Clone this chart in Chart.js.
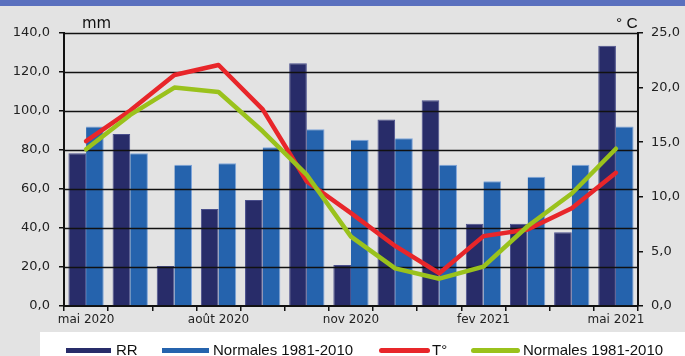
<!DOCTYPE html>
<html>
<head>
<meta charset="utf-8">
<script src="https://cdn.jsdelivr.net/npm/chart.js@4.4.0/dist/chart.umd.min.js"></script>
<style>
  html, body { margin: 0; padding: 0; }
  body { width: 685px; height: 356px; overflow: hidden; background: #e3e3e3; position: relative; }
  #band { position: absolute; left: 0; top: 0; width: 685px; height: 6px; background: #5a70be; }
  #wrap { position: absolute; left: 0; top: 0; width: 685px; height: 356px; }
  .unit { position: absolute; color: #111; line-height: 15px; white-space: nowrap; }
  #legend { position: absolute; left: 40px; top: 332px; width: 645px; height: 24px; background: #ffffff; }
  .sw { position: absolute; height: 5px; top: 348px; }
  .lt { position: absolute; top: 342px; font: 15px "Liberation Sans", Arial, sans-serif; line-height: 15px; color: #111; white-space: nowrap; }
</style>
</head>
<body>
<div id="band"></div>
<div id="legend"></div>
<div id="wrap"><canvas id="c" width="685" height="356"></canvas></div>
<span class="unit" style="left:82px; top:14px; font:15px 'DejaVu Sans', sans-serif;">mm</span>
<span class="unit" style="left:616px; top:14px; font:15.5px 'Liberation Sans', Arial, sans-serif;">° C</span>

<div class="sw" style="left:66px; width:45px; background:#282c69;"></div>
<span class="lt" style="left:116px;">RR</span>
<div class="sw" style="left:162px; width:47px; background:#2563ad;"></div>
<span class="lt" style="left:213px;">Normales 1981-2010</span>
<div class="sw" style="left:379px; width:51px; background:#e8262a; border-radius:3px;"></div>
<span class="lt" style="left:432px;">T°</span>
<div class="sw" style="left:471px; width:49px; background:#9ac21c; border-radius:3px;"></div>
<span class="lt" style="left:523px;">Normales 1981-2010</span>

<script>
// ---- Data ----
const months = ['mai 2020','juin 2020','juil 2020','août 2020','sept 2020','oct 2020','nov 2020','déc 2020','janv 2021','fev 2021','mars 2021','avr 2021','mai 2021'];
const rr = [78.3, 88.2, 20.5, 49.7, 54.4, 124.5, 21.0, 95.7, 105.5, 42.2, 42.2, 37.8, 133.5];
const rrNormales = [92.0, 78.3, 72.5, 73.2, 81.4, 90.6, 85.3, 86.0, 72.5, 64.0, 66.3, 72.5, 92.0];
const temp = [15.1, 17.9, 21.15, 22.07, 18.0, 11.4, 8.5, 5.5, 3.0, 6.4, 7.0, 8.95, 12.2];
const tempNormales = [14.35, 17.5, 20.0, 19.6, 16.0, 12.0, 6.35, 3.45, 2.5, 3.6, 7.3, 10.3, 14.4];
const shownMonthLabels = [0, 3, 6, 9, 12];

const fmt = v => Number(v).toFixed(1).replace('.', ',');

// gridlines drawn over the bars but under the lines
const gridOverBars = {
  id: 'gridOverBars',
  beforeDatasetDraw(chart, args) {
    if (args.index !== 2) return;
    const y = chart.scales.y, a = chart.chartArea, ctx = chart.ctx;
    ctx.save();
    ctx.strokeStyle = '#111';
    ctx.lineWidth = 1.6;
    y.ticks.forEach(t => {
      if (t.value === 0) return;
      const py = Math.round(y.getPixelForValue(t.value)) + 0.5;
      ctx.beginPath();
      ctx.moveTo(a.left, py);
      ctx.lineTo(a.right, py);
      ctx.stroke();
    });
    ctx.restore();
  }
};

new Chart(document.getElementById('c'), {
  type: 'bar',
  data: {
    labels: months,
    datasets: [
      { label: 'RR', data: rr, backgroundColor: '#282c69', borderColor: '#4a4f8c',
        borderWidth: {top:1, left:1, right:1, bottom:0}, yAxisID: 'y', order: 2,
        categoryPercentage: 0.8, barPercentage: 1.0 },
      { label: 'Normales 1981-2010', data: rrNormales, backgroundColor: '#2563ad', borderColor: '#7fa5da',
        borderWidth: {top:1, left:0, right:1, bottom:0}, yAxisID: 'y', order: 2,
        categoryPercentage: 0.8, barPercentage: 1.0 },
      { type: 'line', label: 'T°', data: temp, borderColor: '#e8262a', borderWidth: 4.5,
        pointRadius: 0, tension: 0, yAxisID: 'y1', order: 1, borderCapStyle: 'round', borderJoinStyle: 'round' },
      { type: 'line', label: 'Normales 1981-2010', data: tempNormales, borderColor: '#9ac21c', borderWidth: 4.5,
        pointRadius: 0, tension: 0, yAxisID: 'y1', order: 0, borderCapStyle: 'round', borderJoinStyle: 'round' }
    ]
  },
  options: {
    responsive: false,
    animation: false,
    devicePixelRatio: 1,
    layout: { padding: { top: 33, left: 0, right: 0, bottom: 24 } },
    plugins: { legend: { display: false }, tooltip: { enabled: false } },
    scales: {
      x: {
        offset: true,
        grid: { offset: true, drawOnChartArea: false, drawTicks: true, tickLength: 5, color: '#111', lineWidth: 1.5 },
        border: { display: true, color: '#111', width: 2 },
        ticks: {
          autoSkip: false, maxRotation: 0, minRotation: 0, padding: 2,
          color: '#222', font: { family: 'DejaVu Sans', size: 12 },
          callback: function(v, i) { return shownMonthLabels.includes(i) ? months[i] : ''; }
        },
        afterFit: s => { s.height = 26; }
      },
      y: {
        position: 'left', min: 0, max: 140,
        grid: { drawOnChartArea: false, drawTicks: true, tickLength: 5, color: '#111', lineWidth: 1.5 },
        border: { display: true, color: '#111', width: 2 },
        ticks: { stepSize: 20, padding: 9, color: '#222', font: { family: 'DejaVu Sans', size: 13 }, callback: v => fmt(v) },
        afterFit: s => { s.width = 64; }
      },
      y1: {
        position: 'right', min: 0, max: 25,
        grid: { drawOnChartArea: false, drawTicks: true, tickLength: 5, color: '#111', lineWidth: 1.5 },
        border: { display: true, color: '#111', width: 2 },
        ticks: { stepSize: 5, padding: 8, color: '#222', font: { family: 'DejaVu Sans', size: 13 }, callback: v => fmt(v) },
        afterFit: s => { s.width = 47; }
      }
    }
  },
  plugins: [gridOverBars]
});
</script>
</body>
</html>
